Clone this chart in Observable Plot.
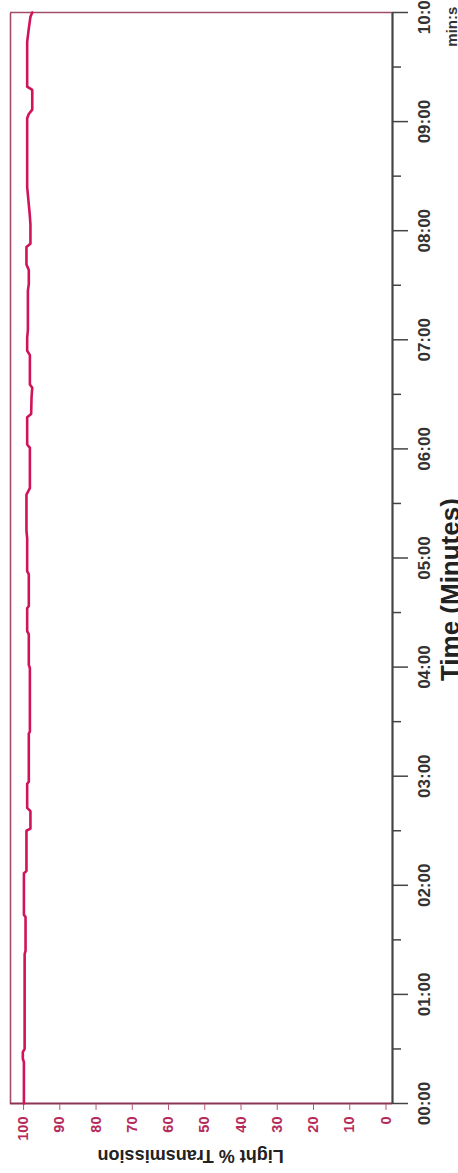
<!DOCTYPE html>
<html>
<head>
<meta charset="utf-8">
<script src="https://cdn.jsdelivr.net/npm/d3@7"></script>
<script src="https://cdn.jsdelivr.net/npm/@observablehq/plot@0.6"></script>
<style>
  html, body { margin: 0; padding: 0; background: #fff; overflow: hidden; width: 458px; height: 1173px; }
  #chart { position: absolute; left: 0; top: 0; width: 1173px; height: 458px;
           transform-origin: 0 0; transform: translateY(1173px) rotate(-90deg); }
</style>
</head>
<body>
<div id="chart"></div>
<script>
// Time in minutes, light % transmission
const times = [0.0, 0.38, 0.41, 0.47, 0.50, 1.37, 1.40, 1.71, 1.73, 2.11, 2.13, 2.50, 2.52, 2.68, 2.71, 2.93, 2.95,
  3.39, 3.41, 3.99, 4.02, 4.30, 4.33, 4.54, 4.56, 4.85, 4.88, 5.18, 5.25, 5.58, 5.64, 6.01, 6.04, 6.29, 6.32,
  6.47, 6.56, 6.59, 6.86, 6.90, 7.02, 7.09, 7.45, 7.51, 7.64, 7.69, 7.85, 7.88, 8.06, 8.17, 8.31, 8.40,
  9.03, 9.07, 9.11, 9.29, 9.32, 9.73, 9.84, 9.96, 10.0];
const values = [99.9, 99.9, 100.2, 100.2, 99.7, 99.7, 99.45, 99.45, 99.9, 99.9, 99.2, 99.2, 98.1, 98.1, 99.0, 99.0, 98.55,
  98.55, 98.25, 98.25, 98.55, 98.55, 99.0, 99.0, 98.55, 98.55, 99.0, 99.0, 99.2, 99.2, 98.25, 98.25, 99.0, 99.0, 97.9,
  97.8, 97.6, 98.25, 98.25, 99.0, 99.0, 98.8, 98.8, 98.55, 98.55, 99.2, 99.2, 98.1, 98.1, 98.35, 98.75, 99.0,
  99.0, 98.55, 97.6, 97.6, 99.0, 99.0, 98.6, 98.1, 97.6];
const minuteTicks = [0, 1, 2, 3, 4, 5, 6, 7, 8, 9, 10];
const halfMinuteTicks = [0.5, 1.5, 2.5, 3.5, 4.5, 5.5, 6.5, 7.5, 8.5, 9.5];
const valueTicks = [0, 10, 20, 30, 40, 50, 60, 70, 80, 90, 100];
const yLabel = "Light % Transmission";
const xLabel = "Time (Minutes)";
const unitLabel = "min:s";

const data = times.map((t, i) => ({t, v: values[i]}));
const xMax = 10, yMin = -1.8, yMax = 103.6;

const plot = Plot.plot({
  width: 1173,
  height: 458,
  marginLeft: 69,
  marginRight: 13,
  marginTop: 10,
  marginBottom: 66,
  style: {fontFamily: "Liberation Sans, Arial, sans-serif", background: "#fff", overflow: "hidden"},
  x: {domain: [0, xMax]},
  y: {domain: [yMin, yMax]},
  marks: [
    // frame lines
    Plot.ruleY([yMax], {stroke: "#a24c6e", strokeWidth: 1.6}),
    Plot.ruleX([xMax], {stroke: "#a24c6e", strokeWidth: 1.6}),
    Plot.ruleX([0], {stroke: "#8c3455", strokeWidth: 1.8}),
    Plot.axisY(valueTicks, {tickSize: 6, tickPadding: 7, stroke: "#b8587a", fill: "#b42a5a",
      fontSize: 14.5, fontWeight: "bold", label: null}),
    Plot.axisX(halfMinuteTicks, {tickSize: 9, text: null, stroke: "#444", strokeWidth: 1.5, label: null}),
    Plot.axisX(minuteTicks, {tickSize: 16, tickPadding: 9, stroke: "#444", strokeWidth: 1.5, fill: "#333",
      fontSize: 17, fontWeight: "bold", label: null,
      tickFormat: d => String(d).padStart(2, "0") + ":00"}),
    Plot.ruleY([yMin], {stroke: "#444", strokeWidth: 2.2}),
    Plot.line(data, {x: "t", y: "v", stroke: "#d0145a", strokeWidth: 2.6}),
    Plot.text([yLabel], {x: 0, y: 53.9, text: d => d, rotate: -90, dx: -52.5, fontSize: 18,
      fontWeight: "bold", fill: "#222", textAnchor: "middle"}),
    Plot.text([xLabel], {x: 4.71, frameAnchor: "bottom", text: d => d, dy: 66, fontSize: 26,
      fontWeight: "bold", fill: "#222"}),
    Plot.text([unitLabel], {x: 9.87, frameAnchor: "bottom", text: d => d, dy: 64, fontSize: 15,
      fontWeight: "bold", fill: "#333"})
  ]
});
document.getElementById("chart").appendChild(plot);
</script>
</body>
</html>
